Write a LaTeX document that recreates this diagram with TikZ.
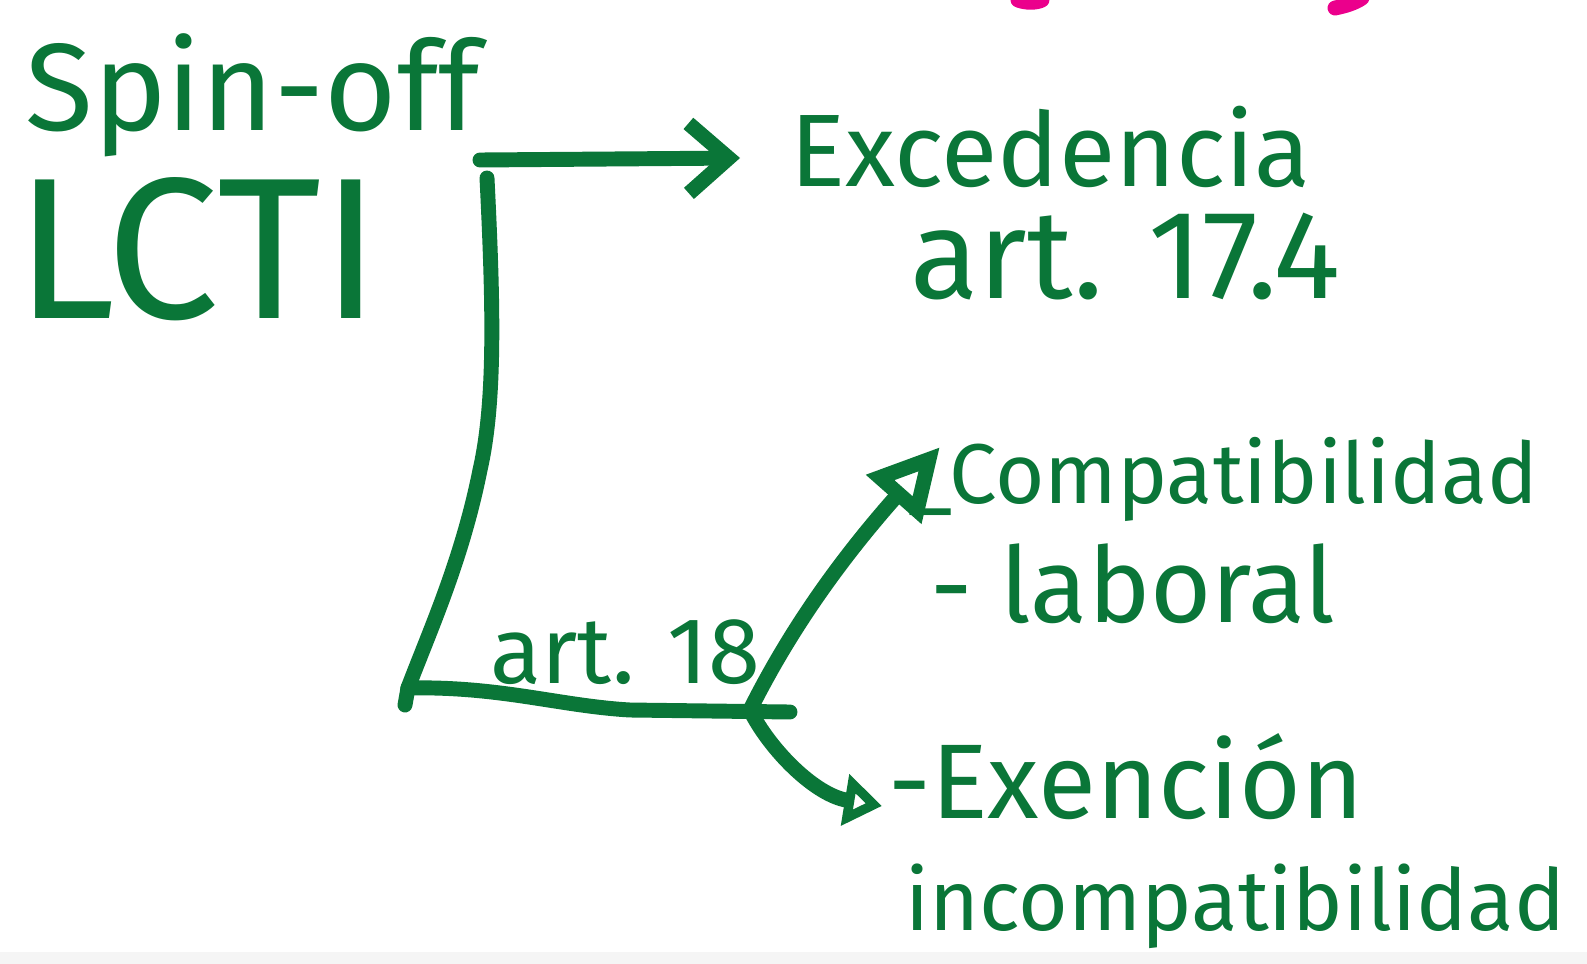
\documentclass[tikz,border=0pt]{standalone}
\usepackage{graphicx}
\usepackage{fontspec}
\setmainfont{Fira Sans}
\usetikzlibrary{arrows.meta}
\definecolor{ink}{RGB}{10,118,56}
\definecolor{pinkink}{RGB}{235,0,140}
\newcommand{\fitw}[2]{\resizebox{#1}{!}{#2}}
\tikzset{
  hand/.style={draw=ink, line width=8.5pt, line cap=round, line join=round},
  txt/.style={text=ink, inner sep=0pt, anchor=base west},
  barb/.style={-{Straight Barb[length=0.8cm,width=1.4cm,line width=8.5pt]}},
  opentri/.style={-{Triangle[open,length=1.4cm,width=1.4cm,line width=8.5pt,fill=white]}},
  smalltri/.style={-{Triangle[open,length=0.75cm,width=1.0cm,line width=8.5pt,fill=white]}}
}
\begin{document}
\begin{tikzpicture}[x=0.02cm,y=-0.02cm]
\useasboundingbox (0,0) rectangle (1587,964);
\fill[white] (0,0) rectangle (1587,964);
\fill[gray!8] (0,952) rectangle (1587,964);

% pink fragments at the top edge
\draw[pinkink, line width=8.5pt, line cap=round] (1018,0) .. controls (1026,3) and (1036,3) .. (1042,0);
\draw[pinkink, line width=8.5pt, line cap=round] (1335,8) .. controls (1345,6) and (1355,3) .. (1362,-2);

% texts
\node[txt] (spin) at (25,130) {\fitw{9.1cm}{Spin-off}};
\node[txt] (lcti) at (15,318) {\fitw{7.3cm}{LCTI}};
\node[txt] (exc) at (790,186) {\fitw{10.4cm}{Excedencia}};
\node[txt] (art174) at (910,298) {\fitw{8.6cm}{art. 17.4}};
\node[txt] (art18) at (490,683) {\fitw{5.4cm}{art. 18}};
\node[txt] (compat) at (908,503) {\fitw{12.6cm}{\_Compatibilidad}};
\node[txt] (labo) at (930,622) {\fitw{8.1cm}{- laboral}};
\node[txt] (exen) at (888,818) {\fitw{9.5cm}{-Exención}};
\node[txt] (incomp) at (905,930) {\fitw{13.2cm}{incompatibilidad}};

% junctions
\coordinate (t0) at (480,160);
\coordinate (t1) at (740,158);
\coordinate (j1) at (487,178);
\coordinate (j2) at (408,688);
\coordinate (j2b) at (405,705);
\coordinate (j3) at (750,710);
\coordinate (j4) at (790,712);
\coordinate (ac) at (940,447);
\coordinate (ae) at (882,806);

% connectors
\draw[hand, barb] (t0) -- (t1);
\draw[hand] (j1) .. controls (493,300) and (496,400) .. (480,470)
   .. controls (462,560) and (430,630) .. (j2);
\draw[hand] (j2) -- (j2b);
\draw[hand] (j2) .. controls (500,686) and (560,706) .. (630,710) -- (j4);
\draw[hand, opentri] (j3) .. controls (790,630) and (840,560) .. (ac);
\draw[hand, smalltri] (j3) .. controls (770,750) and (815,795) .. (ae);
\end{tikzpicture}
\end{document}
